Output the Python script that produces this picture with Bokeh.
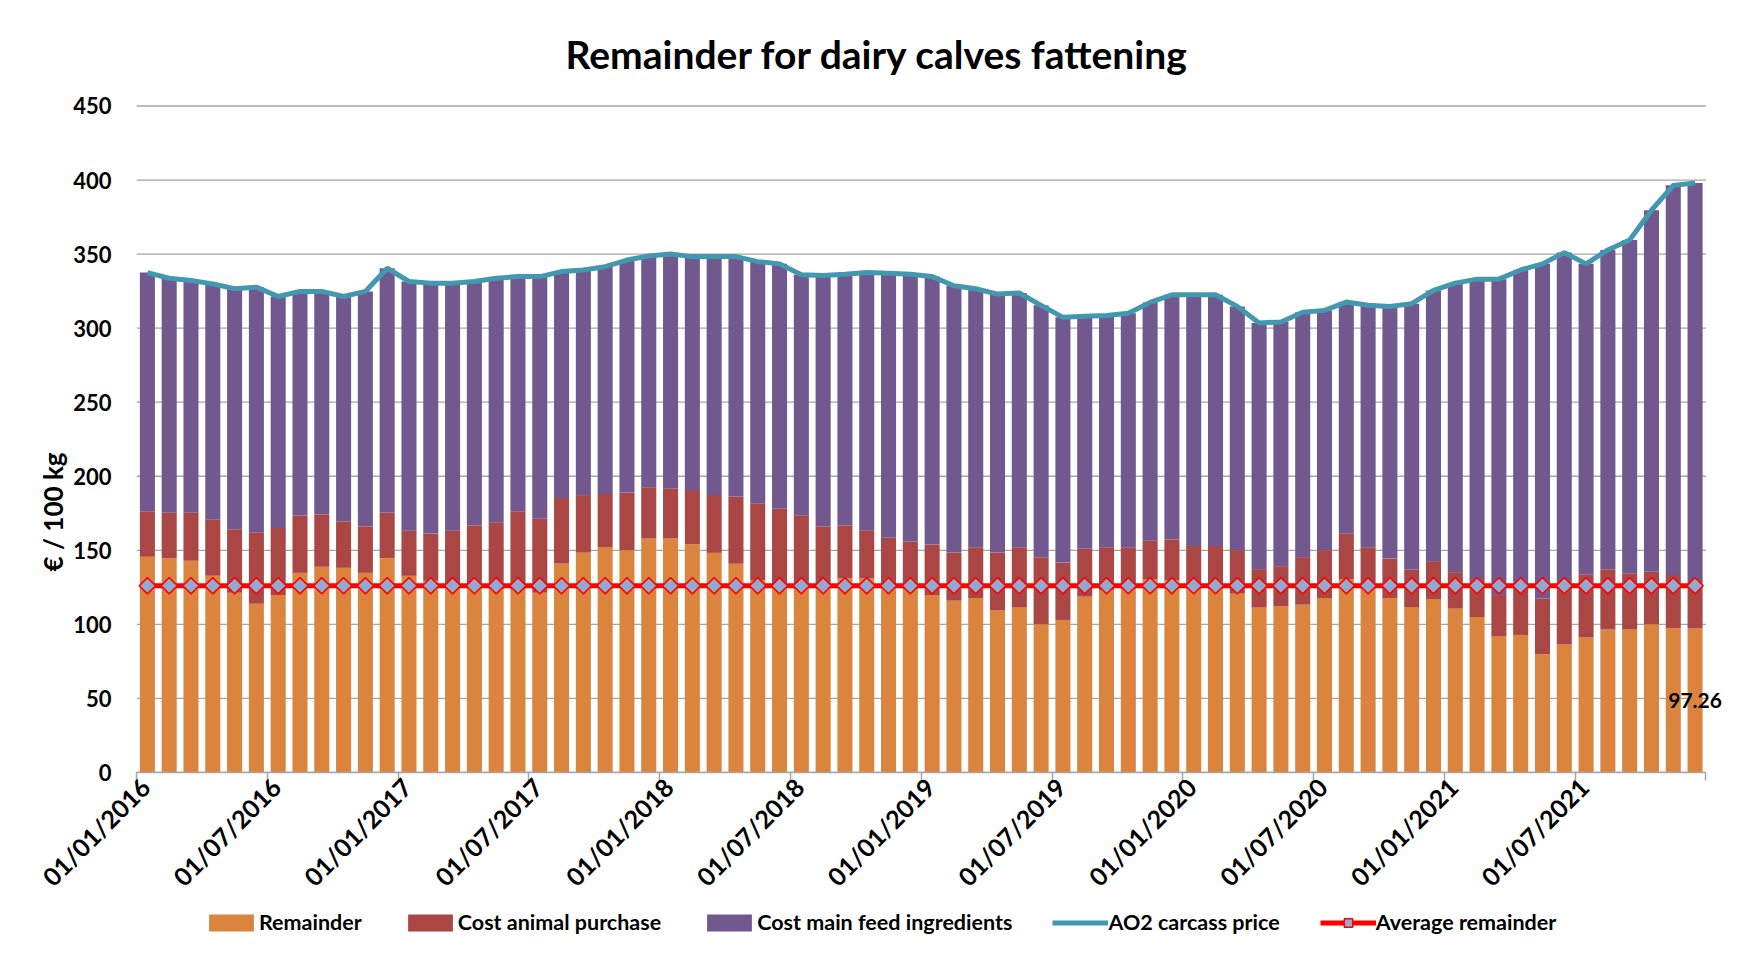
import math
from bokeh.plotting import figure
from bokeh.layouts import column
from bokeh.models import (Range1d, FixedTicker, Label, Legend, LegendItem,
                          ColumnDataSource, Title, LinearAxis)
from bokeh.embed import file_html
from bokeh.resources import INLINE

# ---------------- data ----------------
months = [f"{y}-{m:02d}" for y in range(2016, 2022) for m in range(1, 13)]

remainder = [145.6, 144.7, 142.9, 132.8, 121.4, 114.0, 119.8, 134.8, 138.9, 138.2, 134.8, 144.7,
             132.8, 129.4, 126.8, 124.5, 123.8, 123.4, 121.4, 141.1, 148.4, 152.2, 150.1, 157.9,
             157.9, 154.1, 148.3, 140.9, 129.9, 126.0, 125.0, 127.0, 131.0, 131.0, 124.3, 123.5,
             119.8, 116.0, 117.8, 109.5, 111.3, 100.1, 103.0, 118.7, 123.0, 124.0, 130.6, 129.9,
             124.0, 124.0, 120.7, 111.3, 112.2, 113.3, 117.8, 130.6, 124.0, 117.8, 111.3, 116.9,
             110.6, 105.0, 91.8, 92.9, 79.8, 86.5, 91.1, 96.5, 96.5, 100.1, 97.4, 97.26]

cost_animal = [30.7, 30.6, 32.4, 38.1, 42.8, 48.2, 45.3, 38.8, 35.4, 31.4, 31.4, 30.6,
               30.5, 31.9, 36.5, 42.4, 44.9, 52.9, 49.9, 44.3, 38.9, 35.9, 38.9, 34.7,
               34.0, 36.7, 39.1, 45.4, 51.9, 52.0, 48.6, 39.2, 35.9, 32.3, 34.2, 32.6,
               34.1, 32.5, 34.3, 39.0, 40.8, 45.3, 38.7, 32.3, 29.1, 28.1, 25.9, 27.5,
               29.0, 29.0, 29.4, 26.0, 27.1, 32.1, 32.3, 30.6, 28.1, 26.6, 25.8, 25.8,
               24.7, 25.6, 28.0, 33.1, 37.7, 44.1, 42.4, 40.8, 38.1, 35.4, 35.9, 33.3]

cost_feed = [161.2, 158.4, 156.9, 159.0, 162.4, 165.5, 156.3, 151.2, 150.5, 151.8, 158.6, 165.2,
             168.2, 169.1, 167.1, 164.6, 165.0, 158.5, 163.5, 152.8, 152.0, 153.4, 157.0, 156.1,
             158.2, 157.5, 160.9, 162.0, 163.1, 165.4, 162.4, 169.3, 169.5, 174.2, 178.6, 180.3,
             180.9, 180.1, 174.5, 174.5, 171.6, 170.0, 165.6, 157.0, 156.4, 157.9, 160.9, 165.1,
             169.5, 169.5, 164.6, 166.2, 164.9, 165.3, 161.9, 156.4, 163.3, 170.3, 179.4, 182.8,
             195.1, 202.5, 213.3, 213.3, 225.9, 220.4, 209.9, 215.5, 224.9, 244.1, 263.1, 267.4]

carcass_price = [337.5, 333.7, 332.2, 329.9, 326.6, 327.7, 321.4, 324.8, 324.8, 321.4, 324.8, 340.5,
                 331.5, 330.4, 330.4, 331.5, 333.7, 334.8, 334.8, 338.2, 339.3, 341.5, 346.0, 348.7,
                 350.1, 348.3, 348.3, 348.3, 344.9, 343.4, 336.0, 335.5, 336.4, 337.5, 337.1, 336.4,
                 334.8, 328.6, 326.6, 323.0, 323.7, 315.4, 307.3, 308.0, 308.5, 310.0, 317.4, 322.5,
                 322.5, 322.5, 314.7, 303.5, 304.2, 310.7, 312.0, 317.6, 315.4, 314.7, 316.5, 325.5,
                 330.4, 333.1, 333.1, 339.3, 343.4, 351.0, 343.4, 352.8, 359.5, 379.6, 396.4, 398.0]

average_remainder = [126.1] * len(months)

y_ticks = [0, 50, 100, 150, 200, 250, 300, 350, 400, 450]

tick_labels = ["01/01/2016", "01/07/2016", "01/01/2017", "01/07/2017", "01/01/2018", "01/07/2018",
               "01/01/2019", "01/07/2019", "01/01/2020", "01/07/2020", "01/01/2021", "01/07/2021"]

series_names = ["Remainder", "Cost animal purchase", "Cost main feed ingredients",
                "AO2 carcass price", "Average remainder"]

# ---------------- styling ----------------
FONT = "Lato"
C_ORANGE = "#DB843D"
C_RED = "#AA4643"
C_PURPLE = "#71588F"
C_TEAL = "#4198AF"
C_DIAMOND = "#93A9CF"
GRID = "#A6A6A6"

n = len(months)
src = ColumnDataSource(dict(
    x=[i + 0.5 for i in range(n)],
    month=months,
    rem=remainder,
    animal=cost_animal,
    feed=cost_feed,
    price=carcass_price,
    avg=average_remainder,
))

p = figure(width=1725, height=906, output_backend="svg", toolbar_location=None,
           x_range=Range1d(0, n + 0.85), y_range=Range1d(0, 451),
           min_border_left=136, min_border_right=1, min_border_top=102, min_border_bottom=134)
p.outline_line_color = None
p.background_fill_color = "white"

p.title.text = "Remainder for dairy calves fattening"
p.title.text_font = FONT
p.title.text_font_style = "bold"
p.title.text_font_size = "39px"
p.title.text_color = "black"
p.title.align = "left"
p.title.offset = 429
p.title.standoff = 56

# horizontal gridlines that stop at the end of the category axis
p.xgrid.visible = False
p.ygrid.visible = False
p.segment(x0=[0] * len(y_ticks), x1=[n] * len(y_ticks), y0=y_ticks, y1=y_ticks,
          line_color=GRID, line_width=1.3)

bars = p.vbar_stack(["rem", "animal", "feed"], x="x", width=0.69, source=src,
                    color=[C_ORANGE, C_RED, C_PURPLE], line_color=None)

price_line = p.line("x", "price", source=src, line_color=C_TEAL, line_width=5)
avg_line = p.line("x", "avg", source=src, line_color="#FF0000", line_width=5)
avg_pts = p.scatter("x", "avg", source=src, marker="square", angle=math.pi / 4, size=11.5,
                    fill_color=C_DIAMOND, line_color="#FF0000", line_width=1.5)

# data label for the last remainder
p.add_layout(Label(x=src.data["x"][-1], y=remainder[-1] / 2, text=f"{remainder[-1]:.2f}",
                   text_font=FONT, text_font_style="bold", text_font_size="21px",
                   text_align="center", text_baseline="middle", text_color="black"))

# x axis: tick marks at the month boundaries (no labels) ...
ticks = list(range(0, n + 1, 6))
p.xaxis.ticker = FixedTicker(ticks=ticks)
p.xaxis.major_label_overrides = {t: "" for t in ticks}
p.xaxis.major_label_text_font_size = "1px"
p.xaxis.major_label_standoff = 0
p.xaxis.bounds = (0, n)
p.xaxis.axis_line_color = GRID
p.xaxis.axis_line_width = 1.5
p.xaxis.major_tick_line_color = GRID
p.xaxis.major_tick_line_width = 1.5
p.xaxis.major_tick_out = 8
p.xaxis.major_tick_in = 0
p.xaxis.minor_tick_line_color = None

# ... and the rotated date labels hanging from them, Excel style
shift = 0.4
label_ticks = [t + shift for t in ticks[:len(tick_labels)]]
date_axis = LinearAxis(ticker=FixedTicker(ticks=label_ticks),
                       major_label_overrides={lt: tick_labels[k] for k, lt in enumerate(label_ticks)})
date_axis.major_label_orientation = math.pi / 4
date_axis.major_label_text_font = FONT
date_axis.major_label_text_font_style = "bold"
date_axis.major_label_text_font_size = "25px"
date_axis.major_label_text_color = "black"
date_axis.major_label_standoff = 2
date_axis.axis_line_color = None
date_axis.major_tick_line_color = None
date_axis.major_tick_out = 0
date_axis.major_tick_in = 0
date_axis.minor_tick_line_color = None
p.add_layout(date_axis, "below")

p.yaxis.ticker = FixedTicker(ticks=y_ticks)
p.yaxis.major_label_text_font = FONT
p.yaxis.major_label_text_font_style = "bold"
p.yaxis.major_label_text_font_size = "22px"
p.yaxis.major_label_text_color = "black"
p.yaxis.axis_line_color = None
p.yaxis.major_tick_line_color = None
p.yaxis.major_tick_out = 0
p.yaxis.major_tick_in = 0
p.yaxis.minor_tick_line_color = None
p.yaxis.major_label_standoff = 25

# y axis title, placed below the middle like the reference
p.add_layout(Title(text="€ / 100 kg", text_font=FONT, text_font_style="bold",
                   text_font_size="26px", text_color="black", align="left",
                   offset=201, standoff=3), "left")

# ---------------- legend (separate strip below the chart) ----------------
lg = figure(width=1725, height=34, output_backend="svg", toolbar_location=None,
            x_range=Range1d(0, 1), y_range=Range1d(0, 1),
            x_axis_type=None, y_axis_type=None,
            min_border_left=0, min_border_right=0, min_border_top=0, min_border_bottom=0)
lg.outline_line_color = None
# sample glyphs kept outside the visible range; they only feed the legend swatches
off = dict(x=[-10], y=[-10])
lg_r = lg.vbar(x=off["x"], top=off["y"], width=0.5, fill_color=C_ORANGE, line_color=None)
lg_a = lg.vbar(x=off["x"], top=off["y"], width=0.5, fill_color=C_RED, line_color=None)
lg_f = lg.vbar(x=off["x"], top=off["y"], width=0.5, fill_color=C_PURPLE, line_color=None)
lg_p = lg.line(x=off["x"], y=off["y"], line_color=C_TEAL, line_width=5)
lg_l = lg.line(x=off["x"], y=off["y"], line_color="#FF0000", line_width=5)
lg_d = lg.scatter(x=off["x"], y=off["y"], marker="square", angle=math.pi / 4, size=11.5,
                  fill_color=C_DIAMOND, line_color="#FF0000", line_width=1.5)

legend = Legend(items=[
    LegendItem(label=series_names[0], renderers=[lg_r]),
    LegendItem(label=series_names[1], renderers=[lg_a]),
    LegendItem(label=series_names[2], renderers=[lg_f]),
    LegendItem(label=series_names[3], renderers=[lg_p]),
    LegendItem(label=series_names[4], renderers=[lg_l, lg_d]),
], orientation="horizontal", location=(67, 5))
legend.label_text_font = FONT
legend.label_text_font_style = "bold"
legend.label_text_font_size = "21.5px"
legend.label_text_color = "black"
legend.glyph_width = 56
legend.glyph_height = 21
legend.label_standoff = 0
legend.spacing = 40
legend.padding = 0
legend.margin = 0
legend.border_line_color = None
legend.background_fill_alpha = 0
lg.add_layout(legend, "center")

open("out.html", "w").write(file_html(column(p, lg), INLINE))
